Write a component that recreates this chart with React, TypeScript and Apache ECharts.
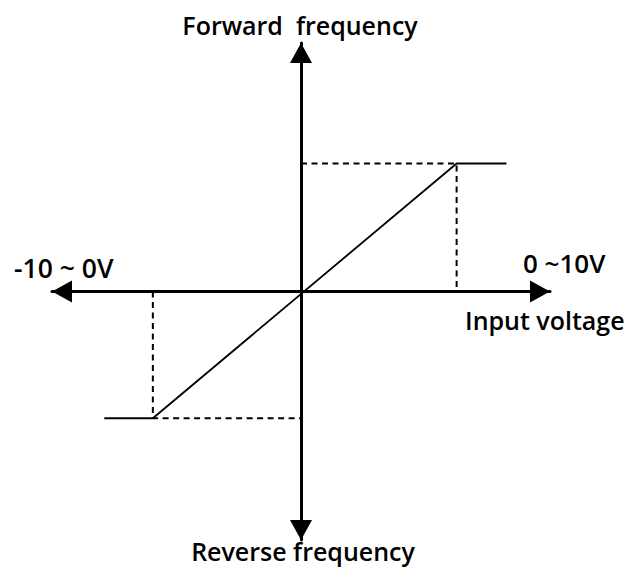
import React, { useEffect, useRef } from "react";
import * as echarts from "echarts";

const xRange = [-10, 10];
const yRange = [-10, 10];
const transferLine = [
  [-7.9, -5.1],
  [-5.95, -5.1],
  [6.25, 5.15],
  [8.25, 5.15],
];
const dashedUpper = [
  [0, 5.15],
  [6.25, 5.15],
  [6.25, 0],
];
const dashedLower = [
  [-5.95, 0],
  [-5.95, -5.1],
  [0, -5.1],
];
const labels = {
  top: "Forward  frequency",
  bottom: "Reverse frequency",
  left: "-10 ~ 0V",
  right: "0 ~10V",
  xName: "Input voltage",
};

const FONT = "'Open Sans', 'Noto Sans', sans-serif";

export default function App() {
  const ref = useRef<HTMLDivElement>(null);
  useEffect(() => {
    if (!ref.current) return;
    const chart = echarts.init(ref.current, undefined, { renderer: "svg" });
    const axisCommon = {
      type: "value",
      axisLine: {
        show: true,
        onZero: true,
        symbol: ["triangle", "triangle"],
        symbolSize: [22, 20],
        symbolOffset: [10, -10],
        lineStyle: { color: "#000", width: 3 },
      },
      axisTick: { show: false },
      axisLabel: { show: false },
      splitLine: { show: false },
    };
    const txt = (text: string, x: number, y: number, align: string, size = 25) => ({
      type: "text",
      x,
      y,
      style: {
        text,
        fill: "#000",
        font: `600 ${size}px ${FONT}`,
        align,
        verticalAlign: "middle",
      },
    });
    chart.setOption({
      animation: false,
      backgroundColor: "#fff",
      grid: { left: 52, right: 83, top: 43, bottom: 29 },
      xAxis: { ...axisCommon, min: xRange[0], max: xRange[1] },
      yAxis: { ...axisCommon, min: yRange[0], max: yRange[1] },
      series: [
        {
          type: "line",
          data: transferLine,
          symbol: "none",
          lineStyle: { color: "#000", width: 1.8 },
          z: 5,
        },
        {
          type: "line",
          data: dashedUpper,
          symbol: "none",
          lineStyle: { color: "#000", width: 2, type: [6, 4.5] },
        },
        {
          type: "line",
          data: dashedLower,
          symbol: "none",
          lineStyle: { color: "#000", width: 2, type: [6, 4.5] },
        },
      ],
      graphic: [
        txt(labels.top, 300, 25, "center"),
        txt(labels.left, 14, 268, "left", 26.5),
        txt(labels.right, 523, 263, "left", 26),
        txt(labels.xName, 465, 320, "left"),
        txt(labels.bottom, 303, 551, "center"),
      ],
    });
    return () => chart.dispose();
  }, []);
  return (
    <div
      ref={ref}
      style={{ position: "fixed", left: 0, top: 0, width: 633, height: 569 }}
    />
  );
}
